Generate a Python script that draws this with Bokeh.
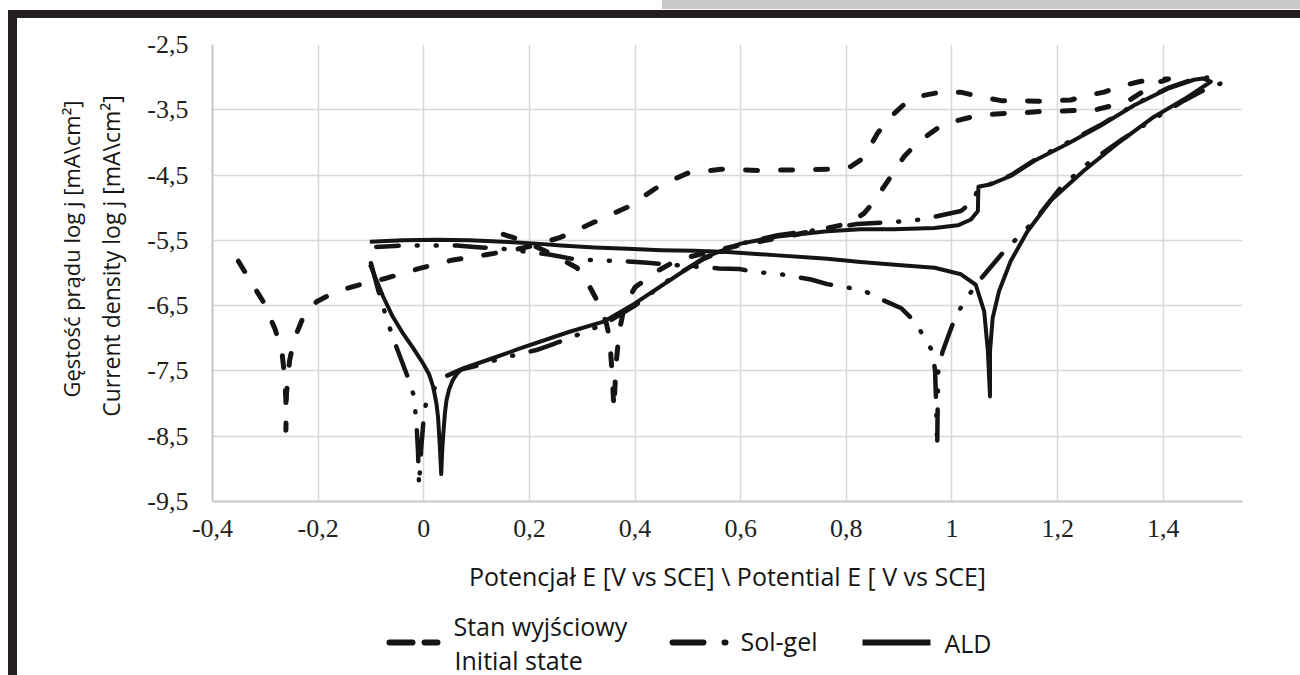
import math
from bokeh.plotting import figure
from bokeh.models import Range1d, FixedTicker, Spacer, ColumnDataSource
from bokeh.layouts import column, row
from bokeh.core.properties import value
from bokeh.embed import file_html
from bokeh.resources import INLINE

# ---------------- data ----------------
x_ticks = [-0.4, -0.2, 0.0, 0.2, 0.4, 0.6, 0.8, 1.0, 1.2, 1.4]
x_tick_labels = ["-0,4", "-0,2", "0", "0,2", "0,4", "0,6", "0,8", "1", "1,2", "1,4"]
y_ticks = [-9.5, -8.5, -7.5, -6.5, -5.5, -4.5, -3.5, -2.5]
y_tick_labels = ["-9,5", "-8,5", "-7,5", "-6,5", "-5,5", "-4,5", "-3,5", "-2,5"]

series_names = ["Stan wyjściowy\nInitial state", "Sol-gel", "ALD"]

init_E = [-0.351, -0.329, -0.304, -0.282, -0.269, -0.264, -0.261, -0.261,
          -0.260, -0.254, -0.246, -0.228, -0.203, -0.165, -0.121, -0.071, -0.008, 0.055,
          0.118, 0.169, 0.213, 0.260,
          0.323, 0.386, 0.449, 0.500, 0.563, 0.638, 0.701, 0.777, 0.808, 0.827,
          0.843, 0.859, 0.881, 0.909, 0.940, 0.978, 1.016,
          1.060, 1.093, 1.127, 1.162, 1.193, 1.225, 1.256, 1.288, 1.323, 1.354, 1.390, 1.410,
          1.390, 1.370, 1.338, 1.307, 1.272, 1.240, 1.206, 1.178, 1.143, 1.111,
          1.074, 1.042, 1.008, 0.985, 0.954, 0.929, 0.909, 0.890, 0.871, 0.852,
          0.833, 0.814, 0.800, 0.700, 0.600, 0.530, 0.480, 0.440, 0.400, 0.380,
          0.370, 0.364, 0.360,
          0.357, 0.352, 0.345, 0.330, 0.310, 0.290, 0.240, 0.200, 0.170, 0.140]
init_logj = [-5.82, -6.11, -6.44, -6.85, -7.18, -7.54, -7.95, -8.41,
             -7.85, -7.34, -7.03, -6.67, -6.44, -6.28, -6.18, -6.08, -5.93, -5.80,
             -5.72, -5.65, -5.57, -5.45,
             -5.22, -4.99, -4.65, -4.47, -4.41, -4.43, -4.42, -4.41, -4.37, -4.27,
             -4.09, -3.86, -3.63, -3.42, -3.29, -3.23, -3.23,
             -3.31, -3.36, -3.36, -3.37, -3.36, -3.35, -3.28, -3.23, -3.13, -3.07, -3.03, -3.03,
             -3.08, -3.18, -3.34, -3.43, -3.50, -3.51, -3.52, -3.52, -3.54, -3.55,
             -3.57, -3.60, -3.67, -3.71, -3.89, -4.05, -4.22, -4.45, -4.68, -4.91,
             -5.09, -5.19, -5.25, -5.42, -5.57, -5.70, -5.80, -5.98, -6.22, -6.50,
             -6.90, -7.40, -8.08,
             -7.60, -7.00, -6.75, -6.45, -6.15, -5.92, -5.70, -5.55, -5.46, -5.38]

solgel_E = [-0.100, -0.085, -0.069, -0.057, -0.045, -0.030, -0.020, -0.016, -0.013, -0.011, -0.009,
            -0.005, -0.001, 0.004, 0.012, 0.025, 0.042, 0.070, 0.100, 0.150, 0.213,
            0.248, 0.300, 0.342, 0.400, 0.468, 0.531, 0.600, 0.670, 0.764, 0.820,
            0.886, 0.924, 0.960, 1.017, 1.040, 1.050, 1.075, 1.112, 1.156, 1.219,
            1.282, 1.345, 1.408, 1.458, 1.490, 1.511,
            1.477, 1.439, 1.382, 1.319, 1.256, 1.206, 1.156, 1.118, 1.093, 1.069,
            1.045, 1.008, 0.995, 0.982, 0.974, 0.973, 0.972,
            0.970, 0.968, 0.963, 0.945, 0.929, 0.904, 0.865, 0.830, 0.764, 0.733,
            0.670, 0.635, 0.597, 0.559, 0.525, 0.418, 0.380, 0.314, 0.279, 0.240,
            0.200, 0.150, 0.096, 0.062, 0.024, -0.045, -0.090]
solgel_logj = [-5.85, -6.30, -6.73, -7.02, -7.28, -7.60, -7.85, -8.12, -8.42, -8.72, -9.26,
               -8.70, -8.30, -8.00, -7.85, -7.72, -7.58, -7.48, -7.42, -7.30, -7.18,
               -7.08, -6.92, -6.78, -6.50, -6.08, -5.78, -5.55, -5.42, -5.32, -5.25,
               -5.22, -5.20, -5.15, -5.05, -4.90, -4.70, -4.63, -4.50, -4.27, -4.00,
               -3.73, -3.42, -3.17, -3.03, -3.00, -3.09,
               -3.20, -3.36, -3.64, -3.97, -4.33, -4.69, -5.20, -5.51, -5.72, -5.95,
               -6.18, -6.64, -6.92, -7.21, -7.50, -8.00, -8.66,
               -8.00, -7.50, -7.20, -6.95, -6.74, -6.54, -6.40, -6.26, -6.17, -6.10,
               -6.01, -5.99, -5.94, -5.93, -5.91, -5.84, -5.82, -5.80, -5.78, -5.72,
               -5.68, -5.63, -5.60, -5.58, -5.58, -5.58, -5.60]

ald_E = [-0.102, -0.090, -0.077, -0.060, -0.039, -0.020, -0.001, 0.010, 0.018, 0.024, 0.027, 0.030, 0.033,
         0.035, 0.037, 0.040, 0.043, 0.048, 0.055, 0.064, 0.074,
         0.118, 0.181, 0.276, 0.342, 0.399, 0.468, 0.531, 0.600, 0.670, 0.764,
         0.827, 0.890, 0.967, 1.011, 1.036, 1.049, 1.050, 1.074, 1.112, 1.156,
         1.219, 1.282, 1.345, 1.408, 1.458, 1.475, 1.490,
         1.445, 1.382, 1.313, 1.250, 1.187, 1.143, 1.111, 1.089, 1.077, 1.072, 1.072,
         1.068, 1.061, 1.045, 1.017, 0.967, 0.904, 0.827, 0.764, 0.670, 0.575,
         0.512, 0.449, 0.386, 0.323, 0.260, 0.213, 0.150, 0.087, 0.024, -0.039, -0.102]
ald_logj = [-5.87, -6.10, -6.36, -6.65, -6.93, -7.15, -7.39, -7.55, -7.75, -8.00, -8.21, -8.60, -9.08,
            -8.70, -8.46, -8.15, -7.95, -7.78, -7.64, -7.53, -7.46,
            -7.34, -7.16, -6.90, -6.74, -6.47, -6.10, -5.76, -5.55, -5.44, -5.36,
            -5.33, -5.33, -5.31, -5.27, -5.18, -5.05, -4.68, -4.64, -4.51, -4.28,
            -4.02, -3.74, -3.43, -3.18, -3.04, -3.02, -3.07,
            -3.31, -3.61, -4.02, -4.43, -4.89, -5.36, -5.82, -6.28, -6.69, -7.20, -7.89,
            -7.20, -6.59, -6.18, -6.02, -5.92, -5.88, -5.83, -5.78, -5.73, -5.68,
            -5.66, -5.65, -5.63, -5.61, -5.58, -5.55, -5.52, -5.50, -5.49, -5.50, -5.52]

x_title = "Potencjał E [V vs SCE] \\ Potential E [ V vs SCE]"
y_title_pl = "Gęstość prądu log j [mA\\cm²]"
y_title_en = "Current density log j [mA\\cm²]"

# ---------------- styles ----------------
INK = "#151515"
FRAME_BLACK = "#231f20"
GRID = "#dcd7d2"
AXIS = "#cbc6c1"
SANS = "Open Sans"
SERIF = "Liberation Serif"

# page geometry (the page has no margin): black frame, y-title strip, main plot, legend strip
TITLE_W = 110                      # page x 17..127
FIG_W, FIG_H = 1173, 582           # page x 127..1300, y 18..600
LEG_H = 75                         # page y 600..675
B_LEFT, B_RIGHT, B_TOP, B_BOTTOM = 85, 58, 26, 99
X0, X1, Y0, Y1 = -0.4, 1.55, -9.5, -2.5

p = figure(width=FIG_W, height=FIG_H, x_range=Range1d(X0, X1), y_range=Range1d(Y0, Y1),
           output_backend="svg", toolbar_location=None, frame_align=False,
           min_border_left=B_LEFT, min_border_right=B_RIGHT,
           min_border_top=B_TOP, min_border_bottom=B_BOTTOM)
p.outline_line_color = None
p.background_fill_color = "white"
p.border_fill_color = "white"

p.xaxis.ticker = FixedTicker(ticks=x_ticks)
p.yaxis.ticker = FixedTicker(ticks=y_ticks)
p.xaxis.major_label_overrides = {t: s for t, s in zip(x_ticks, x_tick_labels)}
p.yaxis.major_label_overrides = {t: s for t, s in zip(y_ticks, y_tick_labels)}
p.xgrid.ticker = FixedTicker(ticks=x_ticks)
p.ygrid.ticker = FixedTicker(ticks=y_ticks)
p.grid.grid_line_color = GRID
p.grid.grid_line_width = 1.5

for ax in (p.xaxis, p.yaxis):
    ax.axis_line_color = AXIS
    ax.axis_line_width = 2
    ax.major_tick_line_color = None
    ax.minor_tick_line_color = None
    ax.major_tick_out = 0
    ax.major_tick_in = 0
    ax.major_label_text_font = SERIF
    ax.major_label_text_font_size = "26px"
    ax.major_label_text_color = "#222222"

p.yaxis.major_label_standoff = 24
p.xaxis.major_label_standoff = 18

p.xaxis.axis_label = x_title
p.xaxis.axis_label_text_font = SANS
p.xaxis.axis_label_text_font_size = "25px"
p.xaxis.axis_label_text_font_style = "normal"
p.xaxis.axis_label_text_color = INK
p.xaxis.axis_label_standoff = 19

# curves
p.line(init_E, init_logj, line_color=INK, line_width=5, line_dash="12 23",
       line_cap="round", line_join="round")
p.line(solgel_E, solgel_logj, line_color=INK, line_width=4.5, line_dash="31 18 1 18 1 18",
       line_cap="round", line_join="round")
p.line(ald_E, ald_logj, line_color=INK, line_width=4, line_join="round")


def strip(width, height, x_range, y_range):
    f = figure(width=width, height=height, x_range=x_range, y_range=y_range,
               output_backend="svg", toolbar_location=None, frame_align=False,
               x_axis_location=None, y_axis_location=None, min_border=0)
    f.outline_line_color = None
    f.grid.visible = False
    f.background_fill_color = "white"
    f.border_fill_color = "white"
    return f


# ---------------- y-axis title strip (page coordinates) ----------------
ttl = strip(TITLE_W, FIG_H + LEG_H, Range1d(17, 17 + TITLE_W), Range1d(675, 18))
ttl.text(x=[70.5], y=[248.5], text=[y_title_pl], angle=math.pi / 2, text_align="center",
         text_baseline="middle", text_font=value(SANS), text_font_size="22px", text_color=INK)
ttl.text(x=[110], y=[255.5], text=[y_title_en], angle=math.pi / 2, text_align="center",
         text_baseline="middle", text_font=value(SANS), text_font_size="23px", text_color=INK)

# ---------------- legend strip (page coordinates) ----------------
leg = strip(FIG_W, LEG_H, Range1d(127, 127 + FIG_W), Range1d(600 + LEG_H, 600))
leg.line([389, 437], [642, 642], line_color=INK, line_width=6, line_dash="23 12", line_cap="round")
leg.line([672, 730], [642, 642], line_color=INK, line_width=6, line_dash="31 21 1 100", line_cap="round")
leg.line([862, 930], [642, 642], line_color=INK, line_width=6)

name_lines = series_names[0].split("\n")
leg_src = ColumnDataSource(dict(
    x=[453, 454, 740, 944],
    y=[625, 659, 640, 642],
    text=[name_lines[0], name_lines[1], series_names[1], series_names[2]],
))
leg.text(x="x", y="y", text="text", source=leg_src, text_font=value(SANS),
         text_font_size="25px", text_baseline="middle", text_align="left", text_color=INK)

# ---------------- frame around the picture ----------------
top_strip = row(Spacer(width=662, height=10),
                Spacer(width=638, height=9, styles={"background-color": "#c8c9cb"}))
top_black = Spacer(width=1292, height=8, styles={"background-color": FRAME_BLACK})
left_black = Spacer(width=9, height=FIG_H + LEG_H, styles={"background-color": FRAME_BLACK})
left_white = Spacer(width=8, height=8 + FIG_H + LEG_H)

layout = column(top_strip,
                row(left_white,
                    column(top_black,
                           row(left_black, ttl, column(p, leg)))))

open("out.html", "w").write(file_html(layout, INLINE))
